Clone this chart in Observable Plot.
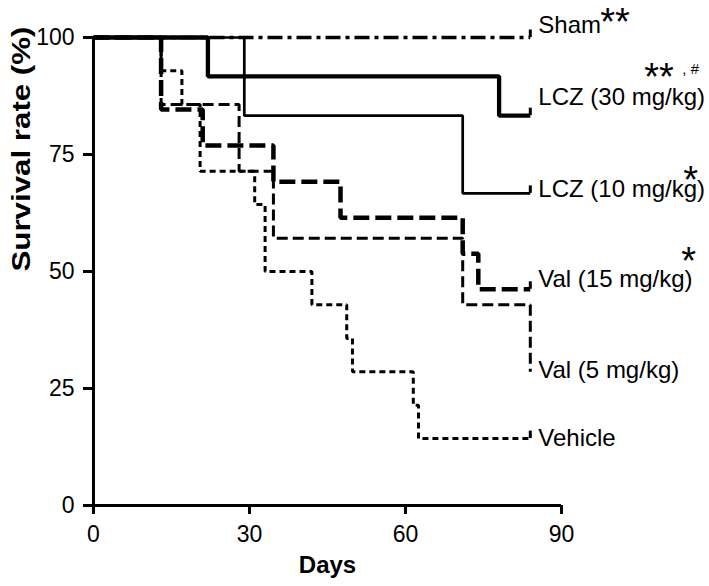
<!DOCTYPE html>
<html>
<head>
<meta charset="utf-8">
<script src="https://cdn.jsdelivr.net/npm/d3@7"></script>
<script src="https://cdn.jsdelivr.net/npm/@observablehq/plot@0.6"></script>
<style>
  html, body { margin: 0; padding: 0; background: #fff; }
  #chart svg { display: block; }
</style>
</head>
<body>
<div id="chart"></div>
<script>
// Tick labels
const xTicks = [0, 30, 60, 90];
const yTicks = [0, 25, 50, 75, 100];

// Group names
const groupNames = ["Sham", "LCZ (30 mg/kg)", "LCZ (10 mg/kg)", "Val (15 mg/kg)", "Val (5 mg/kg)", "Vehicle"];

// Kaplan-Meier steps (day, survival %)
const shamDays = [0, 84];
const shamSurv = [100, 100];
const lcz30Days = [0, 22, 78, 84];
const lcz30Surv = [100, 91.7, 83.3, 83.3];
const lcz10Days = [0, 29, 71, 84];
const lcz10Surv = [100, 83.3, 66.7, 66.7];
const val15Days = [0, 13, 21, 34.6, 47.5, 71, 74, 84];
const val15Surv = [100, 84.6, 76.9, 69.2, 61.5, 53.8, 46.2, 46.2];
const val5Days = [0, 13, 28, 34.6, 71, 84];
const val5Surv = [100, 85.7, 71.4, 57.1, 42.9, 28.6];
const vehDays = [0, 13, 17, 20.5, 31, 33, 42, 48.7, 49.8, 61.5, 62.5, 84];
const vehSurv = [100, 92.9, 85.7, 71.4, 64.3, 50, 42.9, 35.7, 28.6, 21.4, 14.3, 14.3];

// Significance marks
const sigMarks = ["**", "**", "*", "*", "", ""];
const extraMark = ", #";

const series = [
  {days: shamDays, surv: shamSurv},
  {days: lcz30Days, surv: lcz30Surv},
  {days: lcz10Days, surv: lcz10Surv},
  {days: val15Days, surv: val15Surv},
  {days: val5Days, surv: val5Surv},
  {days: vehDays, surv: vehSurv}
].map((s, i) => ({name: groupNames[i], pts: s.days.map((d, j) => ({day: d, surv: s.surv[j]}))}));

// styles (not data)
const styles = [
  {strokeWidth: 3.5, strokeDasharray: "15,5,4,5"},
  {strokeWidth: 4.3},
  {strokeWidth: 2.7},
  {strokeWidth: 4.5, strokeDasharray: "16,6"},
  {strokeWidth: 3, strokeDasharray: "11,5"},
  {strokeWidth: 3, strokeDasharray: "6,4"}
];
const censored = [true, true, true, true, false, true];
const labelDy = [-12, -18, -4, -10, -1, 0];
const starPos = [ {dx: 70, dy: -15}, {dx: 114, dy: -38}, {dx: 153, dy: -13}, {dx: 151, dy: -27} ];

const endPts = series.map(s => ({name: s.name, day: s.pts[s.pts.length - 1].day, surv: s.pts[s.pts.length - 1].surv}));

const marks = [];
// axes
marks.push(Plot.axisX({ticks: xTicks, tickSize: 9, tickPadding: 11, strokeWidth: 3, label: null, fontSize: 23}));
marks.push(Plot.axisY({ticks: yTicks, tickSize: 10, tickPadding: 9, strokeWidth: 3, label: null, fontSize: 23}));
marks.push(Plot.ruleX([0], {y1: 0, y2: 100, strokeWidth: 3}));
marks.push(Plot.ruleY([0], {x1: 0, x2: 90, strokeWidth: 3}));

// survival curves
series.forEach((s, i) => {
  marks.push(Plot.line(s.pts, {x: "day", y: "surv", curve: "step-after", stroke: "black", strokeLinejoin: "miter", strokeLinecap: "butt", ...styles[i]}));
});
// censor ticks at the end
endPts.forEach((e, i) => {
  if (censored[i]) marks.push(Plot.ruleX([e], {x: "day", y1: "surv", y2: d => d.surv + 1.6, stroke: "black", strokeWidth: 3}));
});
// group labels
endPts.forEach((e, i) => {
  marks.push(Plot.text([e], {x: "day", y: "surv", text: "name", textAnchor: "start", dx: 8, dy: labelDy[i], fontSize: 24, fill: "black"}));
});
// significance stars
starPos.forEach((p, i) => {
  marks.push(Plot.text([endPts[i]], {x: "day", y: "surv", text: () => sigMarks[i], textAnchor: "start", dx: p.dx, dy: p.dy, fontSize: 38, fill: "black"}));
});
marks.push(Plot.text([endPts[1]], {x: "day", y: "surv", text: () => extraMark, textAnchor: "start", dx: 152, dy: -46, fontSize: 15, fill: "black"}));

// axis titles
marks.push(Plot.text(["Survival rate (%)"], {frameAnchor: "left", dx: -72, rotate: -90, fontSize: 25, fontWeight: "bold", fill: "black", className: "ylab"}));
marks.push(Plot.text(["Days"], {frameAnchor: "bottom", dy: 67, fontSize: 24, fontWeight: "bold", fill: "black"}));

const chart = Plot.plot({
  width: 709,
  height: 586,
  marginLeft: 93,
  marginRight: 148,
  marginTop: 37,
  marginBottom: 81,
  x: {domain: [0, 90]},
  y: {domain: [0, 100]},
  style: {fontFamily: "'Liberation Sans', Arial, sans-serif", fontSize: "22px", color: "black", background: "white"},
  marks
});
document.getElementById("chart").appendChild(chart);
// the reference font is wider along the y-axis title
d3.select(chart).selectAll("g.ylab text").attr("textLength", 245).attr("lengthAdjust", "spacingAndGlyphs");
</script>
</body>
</html>
